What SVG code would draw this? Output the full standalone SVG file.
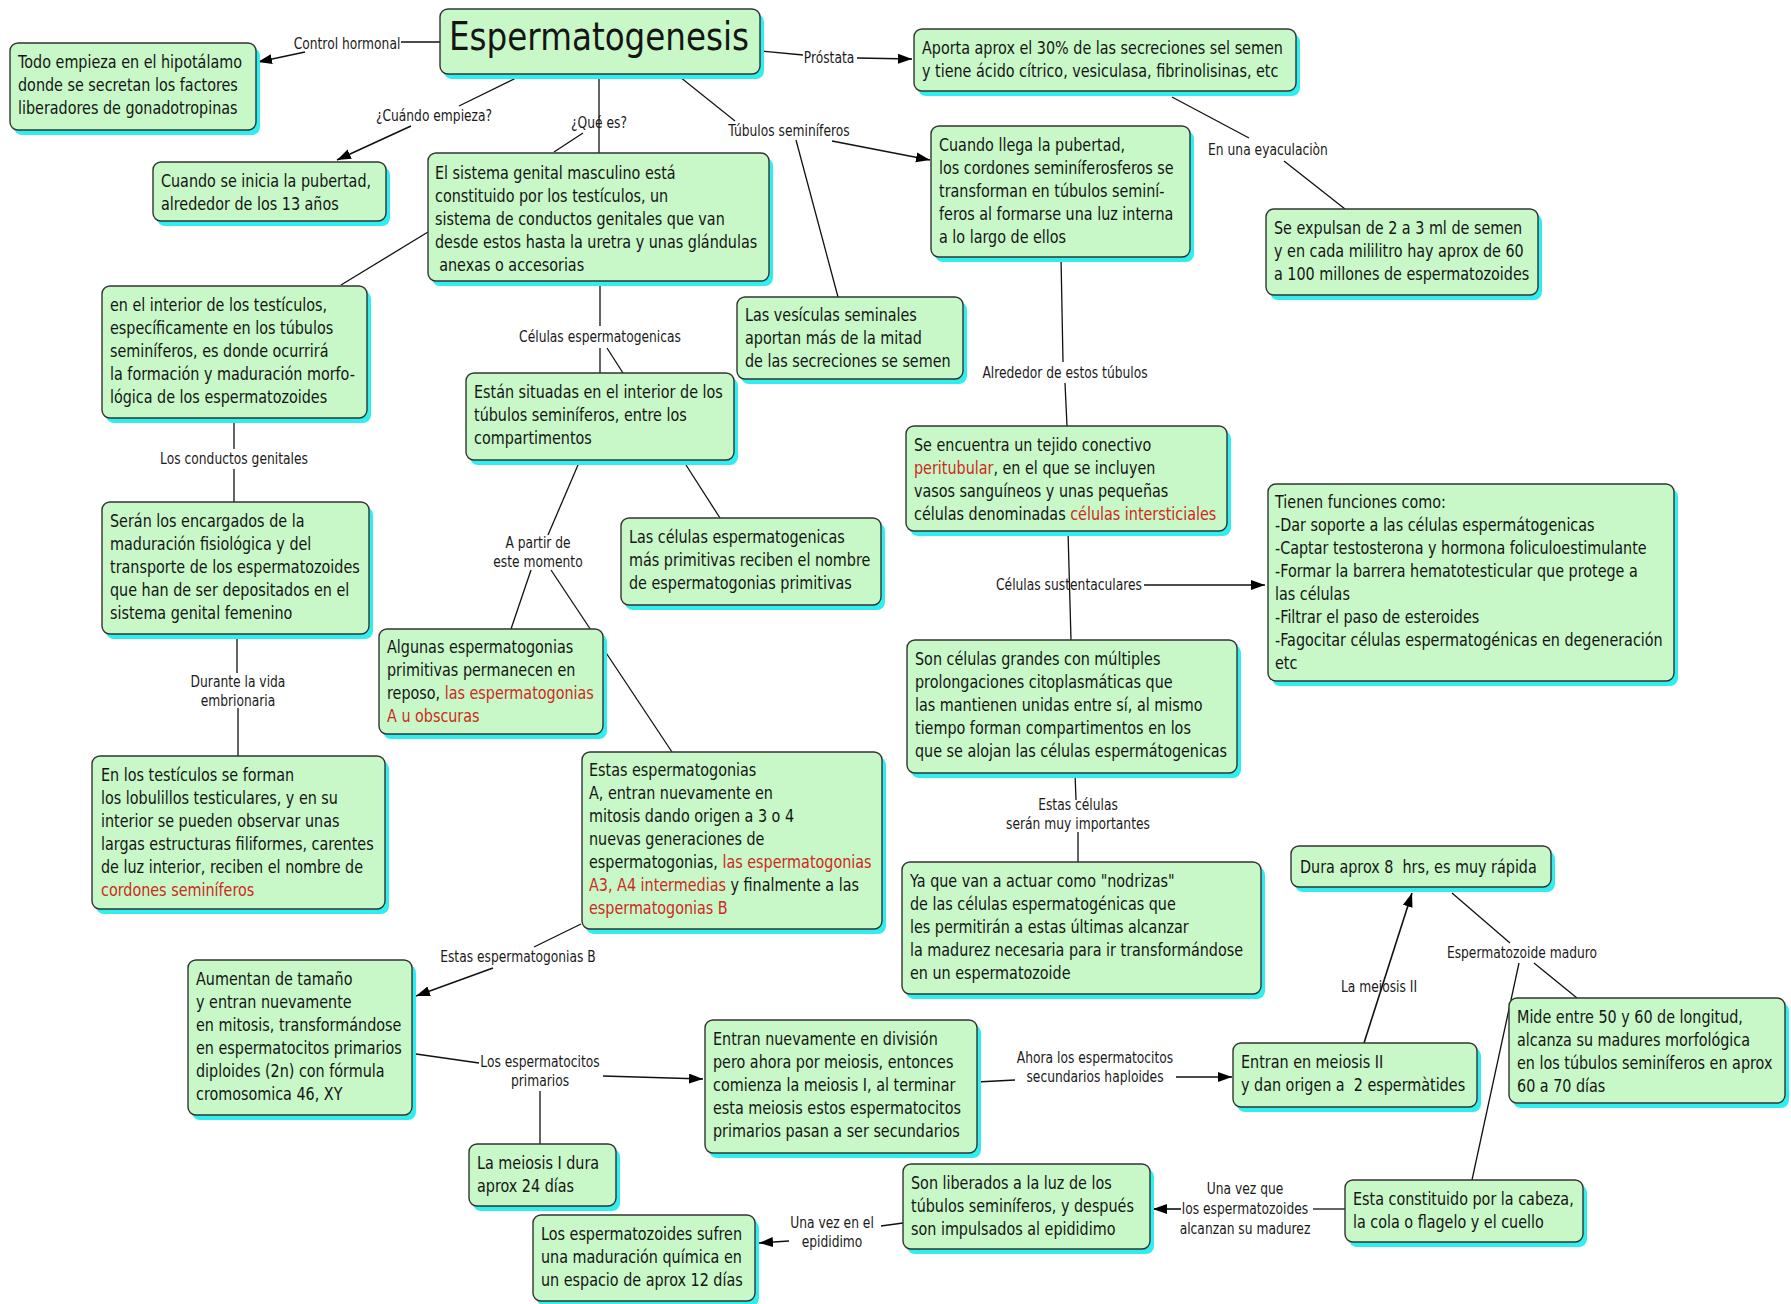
<svg xmlns="http://www.w3.org/2000/svg" width="1791" height="1304" viewBox="0 0 1791 1304">
<defs>
  <style>
    .box{fill:#c8f8c8;stroke:#333;stroke-width:1.4}
    .sh{fill:#2eeeee}
    .t{font-family:"DejaVu Sans","Verdana",sans-serif;font-size:17px;fill:#151515}
    .lb{font-family:"DejaVu Sans","Verdana",sans-serif;font-size:15px;fill:#1a1a1a;text-anchor:middle}
    .r{fill:#cc2a1c}
    .ln{stroke:#111;stroke-width:1.3;fill:none}
    .ar{stroke:#111;stroke-width:1.6;fill:none;marker-end:url(#ah)}
  </style>
  <marker id="ah" markerUnits="userSpaceOnUse" markerWidth="15" markerHeight="11" refX="14" refY="5" orient="auto">
    <path d="M0,0 L14,5 L0,10 z" fill="#000"/>
  </marker>
</defs>
<rect width="1791" height="1304" fill="#fff"/>

<!-- connectors -->
<g id="connectors">
  <line class="ln" x1="440" y1="42" x2="401" y2="42"/>
  <line class="ar" x1="305" y1="52" x2="258" y2="62"/>
  <line class="ln" x1="518" y1="77" x2="459" y2="106"/>
  <line class="ar" x1="411" y1="126" x2="337" y2="160"/>
  <line class="ln" x1="599" y1="77" x2="599" y2="153"/>
  <line class="ln" x1="583" y1="133" x2="554" y2="152"/>
  <line class="ln" x1="760" y1="51" x2="803" y2="55"/>
  <line class="ar" x1="857" y1="58" x2="912" y2="59"/>
  <line class="ln" x1="680" y1="77" x2="735" y2="121"/>
  <line class="ar" x1="832" y1="141" x2="930" y2="160"/>
  <line class="ln" x1="796" y1="140" x2="838" y2="297"/>
  <line class="ln" x1="1172" y1="97" x2="1249" y2="138"/>
  <line class="ln" x1="1284" y1="161" x2="1345" y2="209"/>
  <line class="ln" x1="1061" y1="257" x2="1063" y2="362"/>
  <line class="ln" x1="1065" y1="383" x2="1067" y2="426"/>
  <line class="ln" x1="428" y1="232" x2="341" y2="285"/>
  <line class="ln" x1="600" y1="281" x2="600" y2="326"/>
  <line class="ln" x1="600" y1="348" x2="600" y2="373"/>
  <line class="ln" x1="607" y1="348" x2="623" y2="373"/>
  <line class="ln" x1="234" y1="418" x2="234" y2="449"/>
  <line class="ln" x1="234" y1="469" x2="234" y2="502"/>
  <line class="ln" x1="578" y1="465" x2="548" y2="535"/>
  <line class="ln" x1="531" y1="570" x2="511" y2="629"/>
  <line class="ln" x1="551" y1="570" x2="672" y2="752"/>
  <line class="ln" x1="686" y1="465" x2="720" y2="518"/>
  <line class="ln" x1="237" y1="634" x2="237" y2="673"/>
  <line class="ln" x1="238" y1="708" x2="238" y2="756"/>
  <line class="ln" x1="581" y1="924" x2="534" y2="947"/>
  <line class="ar" x1="493" y1="968" x2="416" y2="996"/>
  <line class="ln" x1="416" y1="1054" x2="479" y2="1063"/>
  <line class="ar" x1="603" y1="1076" x2="703" y2="1079"/>
  <line class="ln" x1="540" y1="1091" x2="540" y2="1144"/>
  <line class="ln" x1="977" y1="1082" x2="1015" y2="1080"/>
  <line class="ar" x1="1176" y1="1077" x2="1232" y2="1077"/>
  <line class="ar" x1="1364" y1="1043" x2="1412" y2="893"/>
  <line class="ln" x1="1452" y1="893" x2="1510" y2="943"/>
  <line class="ln" x1="1534" y1="963" x2="1577" y2="998"/>
  <line class="ln" x1="1519" y1="963" x2="1472" y2="1180"/>
  <line class="ln" x1="1345" y1="1209" x2="1313" y2="1209"/>
  <line class="ar" x1="1181" y1="1209" x2="1153" y2="1209"/>
  <line class="ln" x1="903" y1="1223" x2="881" y2="1226"/>
  <line class="ar" x1="789" y1="1241" x2="759" y2="1243"/>
  <line class="ln" x1="1068" y1="531" x2="1071" y2="640"/>
  <line class="ar" x1="1144" y1="585" x2="1265" y2="585"/>
  <line class="ln" x1="1075" y1="773" x2="1076" y2="800"/>
  <line class="ln" x1="1078" y1="832" x2="1078" y2="862"/>
</g>

<!-- linking phrases -->
<g id="labels">
  <text class="lb" transform="translate(347,49) scale(0.82,1)">Control hormonal</text>
  <text class="lb" transform="translate(434,121) scale(0.82,1)">¿Cuándo empieza?</text>
  <text class="lb" transform="translate(599,128) scale(0.82,1)">¿Qué es?</text>
  <text class="lb" transform="translate(829,63) scale(0.82,1)">Próstata</text>
  <text class="lb" transform="translate(789,136) scale(0.82,1)">Túbulos seminíferos</text>
  <text class="lb" transform="translate(1268,155) scale(0.82,1)">En una eyaculaciòn</text>
  <text class="lb" transform="translate(1065,378) scale(0.82,1)">Alrededor de estos túbulos</text>
  <text class="lb" transform="translate(600,342) scale(0.82,1)">Células espermatogenicas</text>
  <text class="lb" transform="translate(234,464) scale(0.82,1)">Los conductos genitales</text>
  <text class="lb" transform="translate(238,687) scale(0.82,1)"><tspan x="0">Durante la vida</tspan><tspan x="0" dy="19.5">embrionaria</tspan></text>
  <text class="lb" transform="translate(538,548) scale(0.82,1)"><tspan x="0">A partir de</tspan><tspan x="0" dy="19.5">este momento</tspan></text>
  <text class="lb" transform="translate(518,962) scale(0.82,1)">Estas espermatogonias B</text>
  <text class="lb" transform="translate(540,1067) scale(0.82,1)"><tspan x="0">Los espermatocitos</tspan><tspan x="0" dy="19.5">primarios</tspan></text>
  <text class="lb" transform="translate(1095,1063) scale(0.82,1)"><tspan x="0">Ahora los espermatocitos</tspan><tspan x="0" dy="19.5">secundarios haploides</tspan></text>
  <text class="lb" transform="translate(1379,992) scale(0.82,1)">La meiosis II</text>
  <text class="lb" transform="translate(1522,958) scale(0.82,1)">Espermatozoide maduro</text>
  <text class="lb" transform="translate(1245,1194) scale(0.82,1)"><tspan x="0">Una vez que</tspan><tspan x="0" dy="19.8">los espermatozoides</tspan><tspan x="0" dy="19.8">alcanzan su madurez</tspan></text>
  <text class="lb" transform="translate(832,1228) scale(0.82,1)"><tspan x="0">Una vez en el</tspan><tspan x="0" dy="19.5">epididimo</tspan></text>
  <text class="lb" transform="translate(1069,590) scale(0.82,1)">Células sustentaculares</text>
  <text class="lb" transform="translate(1078,810) scale(0.82,1)"><tspan x="0">Estas células</tspan><tspan x="0" dy="19.5">serán muy importantes</tspan></text>
</g>

<!-- concepts -->
<g id="n-titulo">
  <rect class="sh" x="444" y="14" width="320" height="65" rx="8"/>
  <rect class="box" x="440" y="9" width="320" height="65" rx="8"/>
  <text class="t" style="font-size:39px" transform="translate(449,50) scale(0.836,1)">Espermatogenesis</text>
</g>
<g id="n-hipotalamo">
  <rect class="sh" x="14" y="48" width="246" height="87" rx="8"/>
  <rect class="box" x="10" y="43" width="246" height="87" rx="8"/>
  <text class="t" transform="translate(18,68) scale(0.845,1)"><tspan x="0">Todo empieza en el hipotálamo</tspan><tspan x="0" dy="23">donde se secretan los factores</tspan><tspan x="0" dy="23">liberadores de gonadotropinas</tspan></text>
</g>
<g id="n-pubertad13">
  <rect class="sh" x="157" y="167" width="233" height="59" rx="8"/>
  <rect class="box" x="153" y="162" width="233" height="59" rx="8"/>
  <text class="t" transform="translate(161,187) scale(0.845,1)"><tspan x="0">Cuando se inicia la pubertad,</tspan><tspan x="0" dy="23">alrededor de los 13 años</tspan></text>
</g>
<g id="n-sistema">
  <rect class="sh" x="432" y="158" width="341" height="128" rx="8"/>
  <rect class="box" x="428" y="153" width="341" height="128" rx="8"/>
  <text class="t" transform="translate(435,179) scale(0.845,1)"><tspan x="0">El sistema genital masculino está</tspan><tspan x="0" dy="23">constituido por los testículos, un</tspan><tspan x="0" dy="23">sistema de conductos genitales que van</tspan><tspan x="0" dy="23">desde estos hasta la uretra y unas glándulas</tspan><tspan x="5" dy="23">anexas o accesorias</tspan></text>
</g>
<g id="n-prostata">
  <rect class="sh" x="918" y="34" width="382" height="62" rx="8"/>
  <rect class="box" x="914" y="29" width="382" height="62" rx="8"/>
  <text class="t" transform="translate(922,54) scale(0.845,1)"><tspan x="0">Aporta aprox el 30% de las secreciones sel semen</tspan><tspan x="0" dy="23">y tiene ácido cítrico, vesiculasa, fibrinolisinas, etc</tspan></text>
</g>
<g id="n-cordones">
  <rect class="sh" x="935" y="131" width="259" height="131" rx="8"/>
  <rect class="box" x="931" y="126" width="259" height="131" rx="8"/>
  <text class="t" transform="translate(939,151) scale(0.845,1)"><tspan x="0">Cuando llega la pubertad,</tspan><tspan x="0" dy="23">los cordones seminíferosferos se</tspan><tspan x="0" dy="23">transforman en túbulos seminí-</tspan><tspan x="0" dy="23">feros al formarse una luz interna</tspan><tspan x="0" dy="23">a lo largo de ellos</tspan></text>
</g>
<g id="n-expulsan">
  <rect class="sh" x="1270" y="214" width="272" height="86" rx="8"/>
  <rect class="box" x="1266" y="209" width="272" height="86" rx="8"/>
  <text class="t" transform="translate(1274,234) scale(0.845,1)"><tspan x="0">Se expulsan de 2 a 3 ml de semen</tspan><tspan x="0" dy="23">y en cada mililitro hay aprox de 60</tspan><tspan x="0" dy="23">a 100 millones de espermatozoides</tspan></text>
</g>
<g id="n-vesiculas">
  <rect class="sh" x="741" y="302" width="226" height="82" rx="8"/>
  <rect class="box" x="737" y="297" width="226" height="82" rx="8"/>
  <text class="t" transform="translate(745,321) scale(0.845,1)"><tspan x="0">Las vesículas seminales</tspan><tspan x="0" dy="23">aportan más de la mitad</tspan><tspan x="0" dy="23">de las secreciones se semen</tspan></text>
</g>
<g id="n-interior">
  <rect class="sh" x="106" y="291" width="265" height="132" rx="8"/>
  <rect class="box" x="102" y="286" width="265" height="132" rx="8"/>
  <text class="t" transform="translate(110,311) scale(0.845,1)"><tspan x="0">en el interior de los testículos,</tspan><tspan x="0" dy="23">específicamente en los túbulos</tspan><tspan x="0" dy="23">seminíferos, es donde ocurrirá</tspan><tspan x="0" dy="23">la formación y maduración morfo-</tspan><tspan x="0" dy="23">lógica de los espermatozoides</tspan></text>
</g>
<g id="n-situadas">
  <rect class="sh" x="470" y="378" width="268" height="87" rx="8"/>
  <rect class="box" x="466" y="373" width="268" height="87" rx="8"/>
  <text class="t" transform="translate(474,398) scale(0.845,1)"><tspan x="0">Están situadas en el interior de los</tspan><tspan x="0" dy="23">túbulos seminíferos, entre los</tspan><tspan x="0" dy="23">compartimentos</tspan></text>
</g>
<g id="n-encargados">
  <rect class="sh" x="106" y="507" width="267" height="132" rx="8"/>
  <rect class="box" x="102" y="502" width="267" height="132" rx="8"/>
  <text class="t" transform="translate(110,527) scale(0.845,1)"><tspan x="0">Serán los encargados de la</tspan><tspan x="0" dy="23">maduración fisiológica y del</tspan><tspan x="0" dy="23">transporte de los espermatozoides</tspan><tspan x="0" dy="23">que han de ser depositados en el</tspan><tspan x="0" dy="23">sistema genital femenino</tspan></text>
</g>
<g id="n-primitivas">
  <rect class="sh" x="625" y="523" width="260" height="87" rx="8"/>
  <rect class="box" x="621" y="518" width="260" height="87" rx="8"/>
  <text class="t" transform="translate(629,543) scale(0.845,1)"><tspan x="0">Las células espermatogenicas</tspan><tspan x="0" dy="23">más primitivas reciben el nombre</tspan><tspan x="0" dy="23">de espermatogonias primitivas</tspan></text>
</g>
<g id="n-reposo">
  <rect class="sh" x="383" y="634" width="224" height="105" rx="8"/>
  <rect class="box" x="379" y="629" width="224" height="105" rx="8"/>
  <text class="t" transform="translate(387,653) scale(0.845,1)"><tspan x="0">Algunas espermatogonias</tspan><tspan x="0" dy="23">primitivas permanecen en</tspan><tspan x="0" dy="23">reposo, <tspan class="r">las espermatogonias</tspan></tspan><tspan x="0" dy="23" class="r">A u obscuras</tspan></text>
</g>
<g id="n-lobulillos">
  <rect class="sh" x="96" y="761" width="293" height="153" rx="8"/>
  <rect class="box" x="92" y="756" width="293" height="153" rx="8"/>
  <text class="t" transform="translate(101,781) scale(0.845,1)"><tspan x="0">En los testículos se forman</tspan><tspan x="0" dy="23">los lobulillos testiculares, y en su</tspan><tspan x="0" dy="23">interior se pueden observar unas</tspan><tspan x="0" dy="23">largas estructuras filiformes, carentes</tspan><tspan x="0" dy="23">de luz interior, reciben el nombre de</tspan><tspan x="0" dy="23" class="r">cordones seminíferos</tspan></text>
</g>
<g id="n-espermatogonias-a">
  <rect class="sh" x="586" y="757" width="300" height="177" rx="8"/>
  <rect class="box" x="582" y="752" width="300" height="177" rx="8"/>
  <text class="t" transform="translate(589,776) scale(0.845,1)"><tspan x="0">Estas espermatogonias</tspan><tspan x="0" dy="23">A, entran nuevamente en</tspan><tspan x="0" dy="23">mitosis dando origen a 3 o 4</tspan><tspan x="0" dy="23">nuevas generaciones de</tspan><tspan x="0" dy="23">espermatogonias, <tspan class="r">las espermatogonias</tspan></tspan><tspan x="0" dy="23"><tspan class="r">A3, A4 intermedias</tspan> y finalmente a las</tspan><tspan x="0" dy="23" class="r">espermatogonias B</tspan></text>
</g>
<g id="n-aumentan">
  <rect class="sh" x="192" y="965" width="224" height="155" rx="8"/>
  <rect class="box" x="188" y="960" width="224" height="155" rx="8"/>
  <text class="t" transform="translate(196,985) scale(0.845,1)"><tspan x="0">Aumentan de tamaño</tspan><tspan x="0" dy="23">y entran nuevamente</tspan><tspan x="0" dy="23">en mitosis, transformándose</tspan><tspan x="0" dy="23">en espermatocitos primarios</tspan><tspan x="0" dy="23">diploides (2n) con fórmula</tspan><tspan x="0" dy="23">cromosomica 46, XY</tspan></text>
</g>
<g id="n-meiosis1">
  <rect class="sh" x="473" y="1149" width="147" height="62" rx="8"/>
  <rect class="box" x="469" y="1144" width="147" height="62" rx="8"/>
  <text class="t" transform="translate(477,1169) scale(0.845,1)"><tspan x="0">La meiosis I dura</tspan><tspan x="0" dy="23">aprox 24 días</tspan></text>
</g>
<g id="n-quimica">
  <rect class="sh" x="537" y="1220" width="222" height="86" rx="8"/>
  <rect class="box" x="533" y="1215" width="222" height="86" rx="8"/>
  <text class="t" transform="translate(541,1240) scale(0.845,1)"><tspan x="0">Los espermatozoides sufren</tspan><tspan x="0" dy="23">una maduración química en</tspan><tspan x="0" dy="23">un espacio de aprox 12 días</tspan></text>
</g>
<g id="n-division">
  <rect class="sh" x="709" y="1025" width="272" height="133" rx="8"/>
  <rect class="box" x="705" y="1020" width="272" height="133" rx="8"/>
  <text class="t" transform="translate(713,1045) scale(0.845,1)"><tspan x="0">Entran nuevamente en división</tspan><tspan x="0" dy="23">pero ahora por meiosis, entonces</tspan><tspan x="0" dy="23">comienza la meiosis I, al terminar</tspan><tspan x="0" dy="23">esta meiosis estos espermatocitos</tspan><tspan x="0" dy="23">primarios pasan a ser secundarios</tspan></text>
</g>
<g id="n-nodrizas">
  <rect class="sh" x="906" y="867" width="359" height="132" rx="8"/>
  <rect class="box" x="902" y="862" width="359" height="132" rx="8"/>
  <text class="t" transform="translate(910,887) scale(0.845,1)"><tspan x="0">Ya que van a actuar como "nodrizas"</tspan><tspan x="0" dy="23">de las células espermatogénicas que</tspan><tspan x="0" dy="23">les permitirán a estas últimas alcanzar</tspan><tspan x="0" dy="23">la madurez necesaria para ir transformándose</tspan><tspan x="0" dy="23">en un espermatozoide</tspan></text>
</g>
<g id="n-dura">
  <rect class="sh" x="1295" y="851" width="260" height="41" rx="8"/>
  <rect class="box" x="1291" y="846" width="260" height="41" rx="8"/>
  <text class="t" xml:space="preserve" transform="translate(1300,873) scale(0.845,1)">Dura aprox 8  hrs, es muy rápida</text>
</g>
<g id="n-meiosis2">
  <rect class="sh" x="1237" y="1048" width="244" height="64" rx="8"/>
  <rect class="box" x="1233" y="1043" width="244" height="64" rx="8"/>
  <text class="t" xml:space="preserve" transform="translate(1241,1068) scale(0.845,1)"><tspan x="0">Entran en meiosis II</tspan><tspan x="0" dy="23">y dan origen a  2 espermàtides</tspan></text>
</g>
<g id="n-mide">
  <rect class="sh" x="1513" y="1003" width="276" height="105" rx="8"/>
  <rect class="box" x="1509" y="998" width="276" height="105" rx="8"/>
  <text class="t" transform="translate(1517,1023) scale(0.845,1)"><tspan x="0">Mide entre 50 y 60 de longitud,</tspan><tspan x="0" dy="23">alcanza su madures morfológica</tspan><tspan x="0" dy="23">en los túbulos seminíferos en aprox</tspan><tspan x="0" dy="23">60 a 70 días</tspan></text>
</g>
<g id="n-liberados">
  <rect class="sh" x="907" y="1169" width="247" height="85" rx="8"/>
  <rect class="box" x="903" y="1164" width="247" height="85" rx="8"/>
  <text class="t" transform="translate(911,1189) scale(0.845,1)"><tspan x="0">Son liberados a la luz de los</tspan><tspan x="0" dy="23">túbulos seminíferos, y después</tspan><tspan x="0" dy="23">son impulsados al epididimo</tspan></text>
</g>
<g id="n-cabeza">
  <rect class="sh" x="1349" y="1185" width="238" height="62" rx="8"/>
  <rect class="box" x="1345" y="1180" width="238" height="62" rx="8"/>
  <text class="t" transform="translate(1353,1205) scale(0.845,1)"><tspan x="0">Esta constituido por la cabeza,</tspan><tspan x="0" dy="23">la cola o flagelo y el cuello</tspan></text>
</g>
<g id="n-peritubular">
  <rect class="sh" x="910" y="431" width="321" height="105" rx="8"/>
  <rect class="box" x="906" y="426" width="321" height="105" rx="8"/>
  <text class="t" transform="translate(914,451) scale(0.845,1)"><tspan x="0">Se encuentra un tejido conectivo</tspan><tspan x="0" dy="23"><tspan class="r">peritubular</tspan>, en el que se incluyen</tspan><tspan x="0" dy="23">vasos sanguíneos y unas pequeñas</tspan><tspan x="0" dy="23">células denominadas <tspan class="r">células intersticiales</tspan></tspan></text>
</g>
<g id="n-funciones">
  <rect class="sh" x="1272" y="489" width="406" height="197" rx="8"/>
  <rect class="box" x="1268" y="484" width="406" height="197" rx="8"/>
  <text class="t" transform="translate(1275,508) scale(0.845,1)"><tspan x="0">Tienen funciones como:</tspan><tspan x="0" dy="23">-Dar soporte a las células espermátogenicas</tspan><tspan x="0" dy="23">-Captar testosterona y hormona foliculoestimulante</tspan><tspan x="0" dy="23">-Formar la barrera hematotesticular que protege a</tspan><tspan x="0" dy="23">las células</tspan><tspan x="0" dy="23">-Filtrar el paso de esteroides</tspan><tspan x="0" dy="23">-Fagocitar células espermatogénicas en degeneración</tspan><tspan x="0" dy="23">etc</tspan></text>
</g>
<g id="n-grandes">
  <rect class="sh" x="911" y="645" width="330" height="133" rx="8"/>
  <rect class="box" x="907" y="640" width="330" height="133" rx="8"/>
  <text class="t" transform="translate(915,665) scale(0.845,1)"><tspan x="0">Son células grandes con múltiples</tspan><tspan x="0" dy="23">prolongaciones citoplasmáticas que</tspan><tspan x="0" dy="23">las mantienen unidas entre sí, al mismo</tspan><tspan x="0" dy="23">tiempo forman compartimentos en los</tspan><tspan x="0" dy="23">que se alojan las células espermátogenicas</tspan></text>
</g>
</svg>
